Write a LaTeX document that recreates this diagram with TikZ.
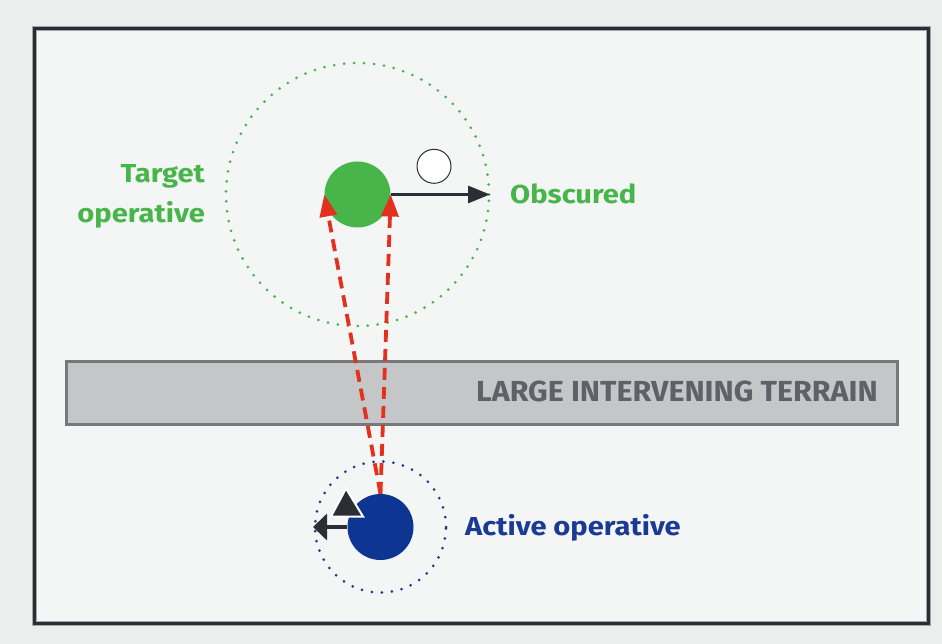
\documentclass[tikz,border=0pt]{standalone}
\usepackage{fontspec}
\newfontfamily\labfont{Fira Sans}[FakeStretch=1.12]
\newfontfamily\terrfont{Fira Sans}[FakeStretch=1.05]
\usetikzlibrary{arrows.meta}
\definecolor{bgout}{HTML}{ECEEEE}
\definecolor{bgin}{HTML}{F4F6F5}
\definecolor{framec}{HTML}{2B2D33}
\definecolor{frameedge}{HTML}{A4A6A9}
\definecolor{tgreen}{HTML}{47B549}
\definecolor{ablue}{HTML}{0E3592}
\definecolor{ablue2}{HTML}{1A3A94}
\definecolor{darkc}{HTML}{2B2E35}
\definecolor{redc}{HTML}{E4301E}
\definecolor{terrfill}{HTML}{C5C6C8}
\definecolor{terrdraw}{HTML}{77787C}
\definecolor{terrtext}{HTML}{606168}
\tikzset{
  op/.style={circle, minimum size=66pt, inner sep=0pt},
  zone/.style={circle, inner sep=0pt, line width=3pt, line cap=round, dash pattern=on 0pt off 10pt},
  lab/.style={font=\labfont\bfseries\fontsize{26}{39.7}\selectfont, inner sep=0pt},
  los/.style={redc, line width=3.8pt, dash pattern=on 12pt off 7pt, -{Triangle[length=22pt,width=17pt]}},
  move/.style={darkc, line width=3pt, -{Triangle[length=22pt,width=17pt]}},
}
\begin{document}
\begin{tikzpicture}[x=1pt,y=-1pt]
\useasboundingbox (0,0) rectangle (942,644);
\fill[bgout] (0,0) rectangle (942,644);
% frame
\draw[frameedge, line width=5pt, fill=bgin] (34.5,28.5) rectangle (928.5,623.5);
\draw[framec, line width=3pt] (34.5,28.5) rectangle (928.5,623.5);
% terrain
\node[draw=terrdraw, fill=terrfill, line width=3pt, rectangle, minimum width=831pt, minimum height=63pt, inner sep=0pt] (terrain) at (481.5,393) {};
\node[inner sep=0pt, font=\terrfont\bfseries\fontsize{29}{34}\selectfont, text=terrtext, anchor=base east] (terrlab) at (878,401.5) {LARGE INTERVENING TERRAIN};
% target operative
\node[zone, draw=tgreen, minimum size=263pt] (tzone) at (357.5,194.5) {};
\node[op, fill=tgreen] (tgt) at (357.5,194.5) {};
\node[circle, draw=darkc, fill=white, line width=1pt, minimum size=34pt, inner sep=0pt] (token) at (434,166.3) {};
\coordinate (mvend) at (490,194.5);
\draw[move] (tgt.east) -- (mvend);
\node[lab, text=tgreen, align=right, anchor=base east] (tlab) at (205,222.7) {Target\\operative};
\node[lab, text=tgreen, anchor=base west] (olab) at (510,204) {Obscured};
% active operative
\node[zone, draw=ablue2, minimum size=131pt] (azone) at (380.5,527) {};
\node[op, fill=ablue] (act) at (380.5,527) {};
\coordinate (back) at (313,527);
\draw[darkc, line width=4pt, -{Triangle[length=14pt,width=26pt]}] (act.west) -- (back);
\path[fill=darkc, draw=white, line width=2pt, line join=miter] (346,488.5) coordinate (ta) -- (331,516.5) coordinate (tb) -- (363,516.5) coordinate (tc) -- cycle;
\node[lab, text=ablue2, anchor=base west] (alab) at (465,535.5) {Active operative};
% line of sight
\draw[los] (act.north) -- (tgt.west);
\draw[los] (act.north) -- (tgt.east);
\end{tikzpicture}
\end{document}
